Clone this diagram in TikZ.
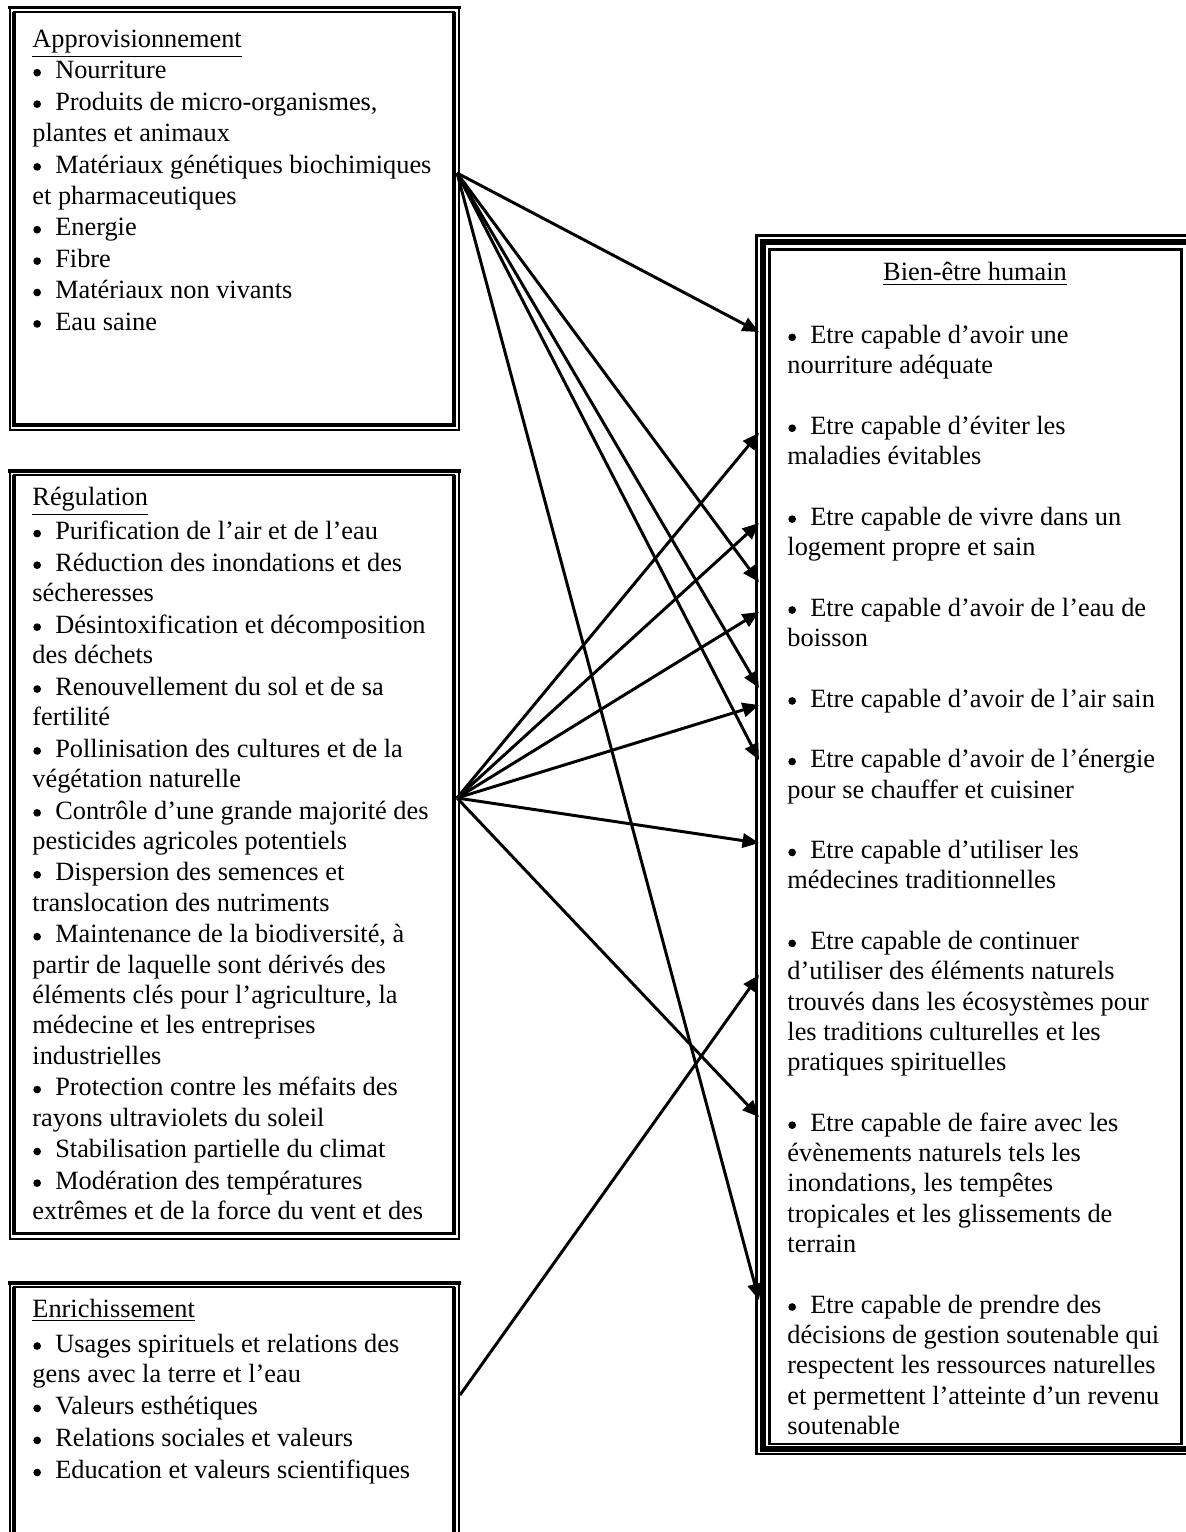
\documentclass[tikz,border=0pt]{standalone}
\usepackage{fontspec}
\setmainfont{Liberation Serif}
\usetikzlibrary{arrows.meta}
\newcommand\bul{\makebox[10.4pt][l]{\hspace{0.4pt}\tikz[baseline=0pt]\fill[black] (0pt,2.8pt) circle[radius=1.75pt];}}
\newcommand\lframe[4]{%
  \draw[thickb,line cap=rect] (#1,#2) -- (#3,#2);
  \draw[thinb] (#1,#2) -- (#1,#4) -- (#3,#4) -- (#3,#2);
  \draw[thinb,line cap=rect] ({#1+4},{#2+4.3}) -- ({#3-5},{#2+4.3});
  \draw[thickb] ({#1+4},{#2+4.3}) -- ({#1+4},{#4-5.3}) -- ({#3-5},{#4-5.3}) -- ({#3-5},{#2+4.3});
}
\tikzset{
  thickb/.style={line width=1.7pt},
  thinb/.style={line width=0.9pt},
  rthin/.style={line width=1.1pt},
  rthick/.style={line width=2.7pt},
  conn/.style={line width=1.35pt,-{Triangle[length=7.5pt,width=6.5pt]}},
  txt/.style={anchor=north west, inner sep=0pt, align=left, font=\fontsize{12pt}{13.8pt}\selectfont},
}
\begin{document}
\begin{tikzpicture}[x=0.4554pt,y=-0.4554pt]
\useasboundingbox (0,0) rectangle (1186,1532);
\clip (0,0) rectangle (1186,1532);
% left frames
\lframe{10.2}{7.5}{459.2}{430}
\lframe{10.2}{470.8}{459.2}{1238.7}
\lframe{10.2}{1283}{459.2}{1580}
% right frame (triple)
\draw[rthin] (756.3,235.3) rectangle (1195,1454);
\draw[rthick] (763,242) rectangle (1188.5,1448.6);
\draw[rthin] (769.5,249.5) rectangle (1181.5,1443.8);

% texts
\node[txt] (prov) at (32,{47-21.2}) {\strut\underline{Approvisionnement}\\[0.5pt]
\bul Nourriture\\[0.5pt]
\bul Produits de micro-organismes,\\[0.5pt]
plantes et animaux\\[0.5pt]
\bul Matériaux génétiques biochimiques\\[0.5pt]
et pharmaceutiques\\[0.5pt]
\bul Energie\\[0.5pt]
\bul Fibre\\[0.5pt]
\bul Matériaux non vivants\\[0.5pt]
\bul Eau saine};

\node[txt] (regul) at (32,{505-21.2}) {\strut\underline{Régulation}\\[1.8pt]
\bul Purification de l’air et de l’eau\\[0.6pt]
\bul Réduction des inondations et des\\
sécheresses\\[0.6pt]
\bul Désintoxification et décomposition\\
des déchets\\[0.6pt]
\bul Renouvellement du sol et de sa\\
fertilité\\[0.6pt]
\bul Pollinisation des cultures et de la\\
végétation naturelle\\[0.6pt]
\bul Contrôle d’une grande majorité des\\
pesticides agricoles potentiels\\[0.6pt]
\bul Dispersion des semences et\\
translocation des nutriments\\[0.6pt]
\bul Maintenance de la biodiversité, à\\
partir de laquelle sont dérivés des\\
éléments clés pour l’agriculture, la\\
médecine et les entreprises\\
industrielles\\[0.6pt]
\bul Protection contre les méfaits des\\
rayons ultraviolets du soleil\\[0.6pt]
\bul Stabilisation partielle du climat\\[0.6pt]
\bul Modération des températures\\
extrêmes et de la force du vent et des};

\node[txt] (enrich) at (32,{1317-21.2}) {\strut\underline{Enrichissement}\\[2pt]
\bul Usages spirituels et relations des\\
gens avec la terre et l’eau\\[0.8pt]
\bul Valeurs esthétiques\\[0.8pt]
\bul Relations sociales et valeurs\\[0.8pt]
\bul Education et valeurs scientifiques};

\node[anchor=base, inner sep=0pt, font=\fontsize{12pt}{13.8pt}\selectfont] (bientitle) at (975,281) {\underline{Bien-être humain}};

\node[txt] (bien) at (787,{343-21.2}) {\strut\bul Etre capable d’avoir une\\
nourriture adéquate\\[13.8pt]
\bul Etre capable d’éviter les\\
maladies évitables\\[13.8pt]
\bul Etre capable de vivre dans un\\
logement propre et sain\\[13.8pt]
\bul Etre capable d’avoir de l’eau de\\
boisson\\[13.8pt]
\bul Etre capable d’avoir de l’air sain\\[13.8pt]
\bul Etre capable d’avoir de l’énergie\\
pour se chauffer et cuisiner\\[13.8pt]
\bul Etre capable d’utiliser les\\
médecines traditionnelles\\[13.8pt]
\bul Etre capable de continuer\\
d’utiliser des éléments naturels\\
trouvés dans les écosystèmes pour\\
les traditions culturelles et les\\
pratiques spirituelles\\[13.8pt]
\bul Etre capable de faire avec les\\
évènements naturels tels les\\
inondations, les tempêtes\\
tropicales et les glissements de\\
terrain\\[13.8pt]
\bul Etre capable de prendre des\\
décisions de gestion soutenable qui\\
respectent les ressources naturelles\\
et permettent l’atteinte d’un revenu\\
soutenable};

% connector end points
\coordinate (A) at (457,173);
\coordinate (B) at (457,798);
\coordinate (C) at (460,1395);
\coordinate (t332) at (759,332);
\coordinate (t433) at (759,433);
\coordinate (t523) at (759,523);
\coordinate (t582) at (759,582);
\coordinate (t612) at (759,612);
\coordinate (t688) at (759,688);
\coordinate (t705) at (759,705);
\coordinate (t760) at (759,760);
\coordinate (t843) at (759,843);
\coordinate (t975) at (759,975);
\coordinate (t1117) at (759,1117);
\coordinate (t1300) at (759,1300);

\draw[conn] (A) -- (t332);
\draw[conn] (A) -- (t582);
\draw[conn] (A) -- (t688);
\draw[conn] (A) -- (t760);
\draw[conn] (A) -- (t1300);
\draw[conn] (B) -- (t433);
\draw[conn] (B) -- (t523);
\draw[conn] (B) -- (t612);
\draw[conn] (B) -- (t705);
\draw[conn] (B) -- (t843);
\draw[conn] (B) -- (t1117);
\draw[conn] (C) -- (t975);
\end{tikzpicture}
\end{document}
